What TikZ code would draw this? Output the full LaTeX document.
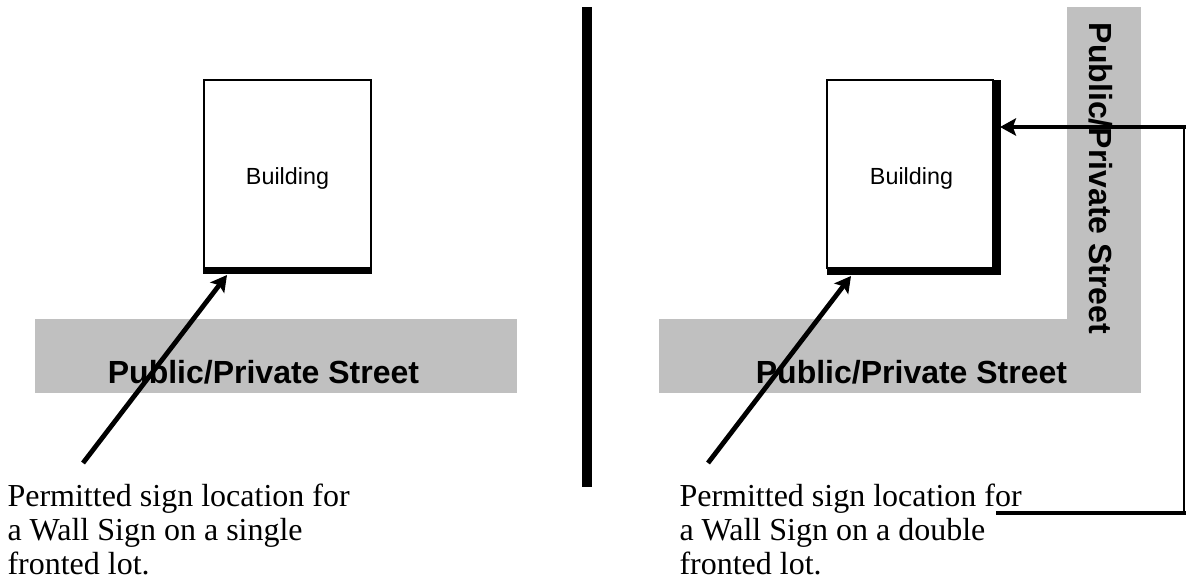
\documentclass[tikz,border=0pt]{standalone}
\usepackage{fontspec}
\setmainfont{Liberation Serif}
\setsansfont{Liberation Sans}
\usepackage{tikz}
\usetikzlibrary{arrows.meta}
\definecolor{streetgray}{RGB}{192,192,192}

\begin{document}
\begin{tikzpicture}[x=0.375pt,y=-0.375pt]
   \useasboundingbox (0,0) rectangle (1186,580);
\pgfmathsetmacro{\xbuilding}{204}%
\pgfmathsetmacro{\ybuilding}{80}%
\pgfmathsetmacro{\wbuilding}{167}%
\pgfmathsetmacro{\hbuilding}{188}%
\pgfmathsetmacro{\ewall}{6}%

\pgfmathsetmacro{\xstreet}{35}%
\pgfmathsetmacro{\ystreet}{319}%
\pgfmathsetmacro{\wstreet}{482}%
\pgfmathsetmacro{\hstreet}{74}%

\pgfmathsetmacro{\shift}{624}%
\pgfmathsetmacro{\xside}{1067}%
\pgfmathsetmacro{\wside}{74}%

\tikzset{wall/.style={fill=black},
  pointer/.style={line width=1.8pt,-{Stealth[length=6pt,width=6.5pt,inset=1.2pt]}},
  caption/.style={anchor=north west,inner sep=0pt,align=left,font=\fontsize{12}{12.8}\selectfont},
  streetname/.style={anchor=base,inner sep=0pt,font=\fontsize{12}{14}\sffamily\bfseries}}

    %street (single)
    \fill[streetgray] (\xstreet,\ystreet) rectangle +(\wstreet,\hstreet);
    \node[streetname] (streetL) at (263.5,383) {Public/Private Street};

    %street (double)
    \fill[streetgray] (\xstreet+\shift,\ystreet) rectangle (\xside+\wside,\ystreet+\hstreet);
    \fill[streetgray] (\xside,7) rectangle +(\wside,\ystreet+\hstreet-7);
    \node[streetname] (streetR) at (911.5,383) {Public/Private Street};
    \node[streetname,rotate=-90] (streetS) at (1089,178.5) {Public/Private Street};

    %divider
    \fill (582,7) rectangle (592,487);

    %building (single)
    \draw[line width=0.8pt] (\xbuilding,\ybuilding) rectangle +(\wbuilding,\hbuilding);
    \fill[wall] (\xbuilding-1,\ybuilding+\hbuilding) rectangle +(\wbuilding+2,\ewall);
    \node[font=\fontsize{8.75}{10}\sffamily] (bldL) at (\xbuilding+\wbuilding/2,178) {Building};

    %building (double)
    \draw[line width=0.8pt] (\xbuilding+\shift-1,\ybuilding) rectangle +(\wbuilding-1,\hbuilding);
    \fill[wall] (\xbuilding+\shift-1,\ybuilding+\hbuilding) rectangle (\xbuilding+\shift+\wbuilding+6,\ybuilding+\hbuilding+\ewall+1);
    \fill[wall] (\xbuilding+\shift+\wbuilding-1,\ybuilding) rectangle (\xbuilding+\shift+\wbuilding+6,\ybuilding+\hbuilding+\ewall+1);
    \node[font=\fontsize{8.75}{10}\sffamily] (bldR) at (\xbuilding+\shift+\wbuilding/2,178) {Building};

    %captions
    \node[caption] (capL) at (7,483) {Permitted sign location for\\a Wall Sign on a single\\fronted lot.};
    \node[caption] (capR) at (679,483) {Permitted sign location for\\a Wall Sign on a double\\fronted lot.};

    %pointers
    \coordinate (tailL) at (83,463);
    \coordinate (signL) at (227,275);
    \coordinate (tailR) at (708,463);
    \coordinate (signR) at (851,276);
    \draw[pointer] (tailL) -- (signL);
    \draw[pointer] (tailR) -- (signR);

    \coordinate (lineB) at (996,513);
    \coordinate (edgeB) at (1186,513);
    \coordinate (bendB) at (1184,513);
    \coordinate (bendT) at (1184,127);
    \coordinate (edgeT) at (1186,127);
    \coordinate (signS) at (1000,127);
    \draw[line width=1.4pt] (lineB) -- (edgeB);
    \draw[line width=0.4pt] (bendB) -- (bendT);
    \draw[line width=1.4pt,-{Stealth[length=6pt,width=6.5pt,inset=1.2pt]}] (edgeT) -- (signS);

  \end{tikzpicture}
\end{document}
